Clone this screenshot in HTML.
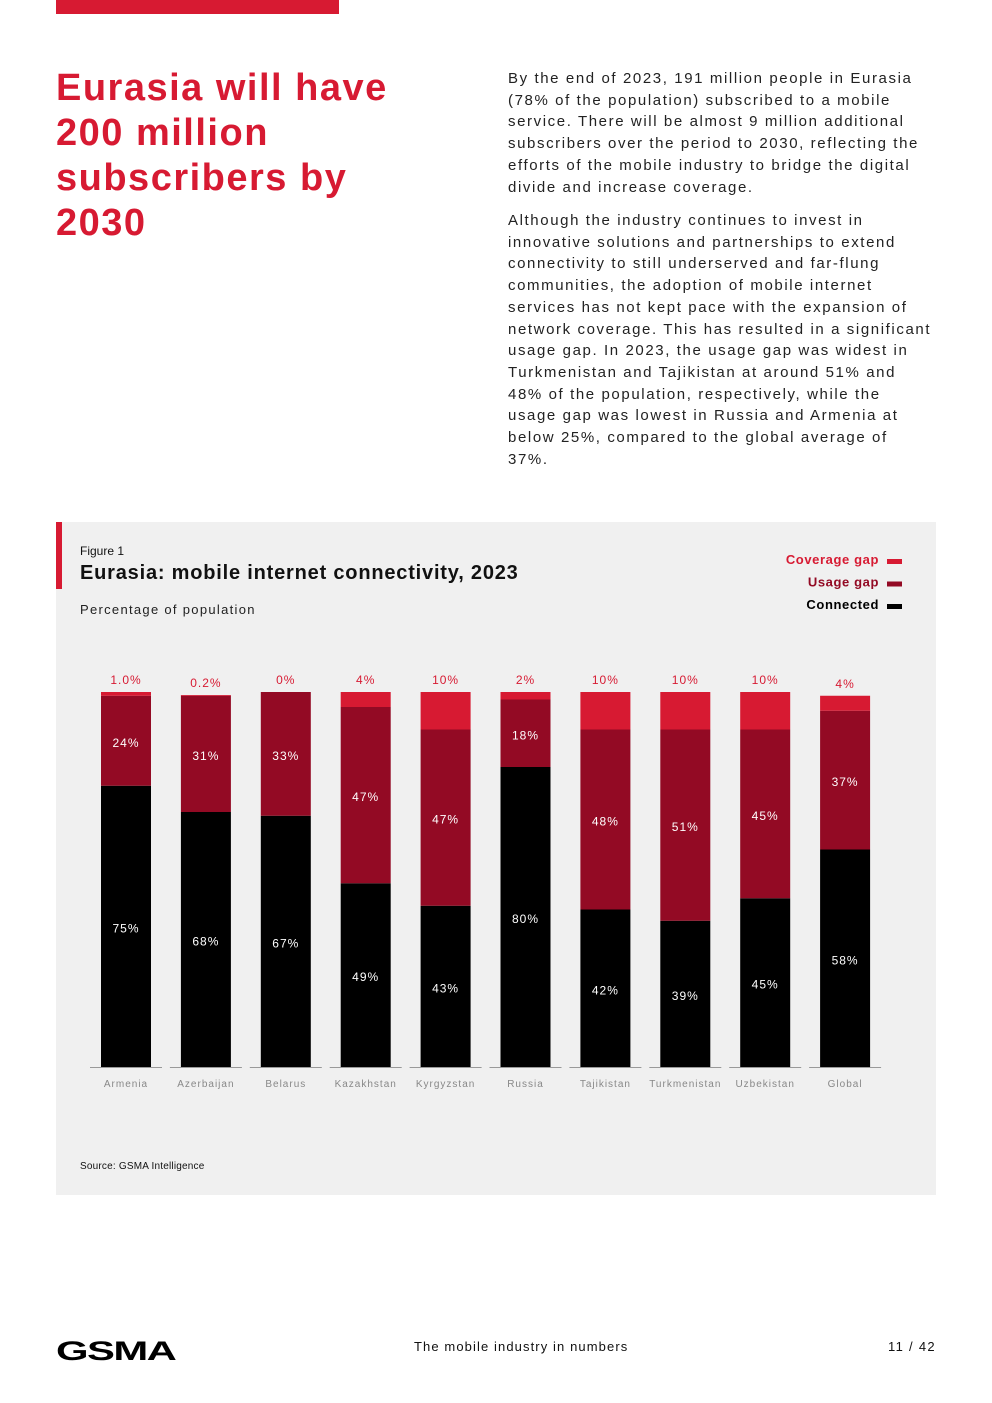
<!DOCTYPE html>
<html><head><meta charset="utf-8">
<style>
body{margin:0;width:992px;height:1403px;background:#fff;position:relative;font-family:"Liberation Sans",sans-serif;overflow:hidden}
.abs{position:absolute}
#title{left:56px;top:66px;color:#d71a32;font-weight:bold;font-size:38px;line-height:45px;letter-spacing:1.5px}
.body{left:508px;color:#222;font-size:15px;line-height:21.7px;letter-spacing:1.6px;white-space:nowrap}
</style></head><body>
<div class="abs" style="left:56px;top:0;width:283px;height:14px;background:#d71a32"></div>
<div id="title" class="abs">Eurasia will have<br>200 million<br>subscribers by<br>2030</div>
<div class="abs body" style="top:68px">By the end of 2023, 191 million people in Eurasia<br>(78% of the population) subscribed to a mobile<br>service. There will be almost 9 million additional<br>subscribers over the period to 2030, reflecting the<br>efforts of the mobile industry to bridge the digital<br>divide and increase coverage.</div>
<div class="abs body" style="top:210px">Although the industry continues to invest in<br>innovative solutions and partnerships to extend<br>connectivity to still underserved and far-flung<br>communities, the adoption of mobile internet<br>services has not kept pace with the expansion of<br>network coverage. This has resulted in a significant<br>usage gap. In 2023, the usage gap was widest in<br>Turkmenistan and Tajikistan at around 51% and<br>48% of the population, respectively, while the<br>usage gap was lowest in Russia and Armenia at<br>below 25%, compared to the global average of<br>37%.</div>

<div class="abs" style="left:56px;top:522px;width:880px;height:673px;background:#f0f0f0"></div>
<div class="abs" style="left:56px;top:522px;width:6px;height:67px;background:#d71a32"></div>
<div class="abs" style="left:80px;top:544px;font-size:12px;color:#111">Figure 1</div>
<div class="abs" style="left:80px;top:562px;font-size:20px;font-weight:bold;color:#111;letter-spacing:0.8px">Eurasia: mobile internet connectivity, 2023</div>
<div class="abs" style="left:80px;top:602px;font-size:13px;color:#222;letter-spacing:1.3px">Percentage of population</div>

<svg class="abs" style="left:0;top:0" width="992" height="1403" id="chart"></svg>

<div class="abs" style="left:80px;top:1161px;font-size:10px;color:#111;letter-spacing:0.2px">Source: GSMA Intelligence</div>

<div class="abs" style="left:56px;top:1336px;font-size:27px;font-weight:900;letter-spacing:-1px;color:#000;transform:scaleX(1.55);transform-origin:left">GSMA</div>
<div class="abs" style="left:414px;top:1339px;font-size:13px;color:#111;letter-spacing:1.1px">The mobile industry in numbers</div>
<div class="abs" style="left:888px;top:1339px;font-size:13px;color:#111;letter-spacing:1.3px">11 / 42</div>

<script>
const categories=["Armenia","Azerbaijan","Belarus","Kazakhstan","Kyrgyzstan","Russia","Tajikistan","Turkmenistan","Uzbekistan","Global"];
const connected=[75,68,67,49,43,80,42,39,45,58];
const usage=[24,31,33,47,47,18,48,51,45,37];
const coverage=[1.0,0.2,0,4,10,2,10,10,10,4];
const coverageLabels=["1.0%","0.2%","0%","4%","10%","2%","10%","10%","10%","4%"];
const legendNames=["Coverage gap","Usage gap","Connected"];

const NS="http://www.w3.org/2000/svg";
const svg=document.getElementById('chart');
const base=1067, scale=3.75, x0=101, step=79.9, bw=50;
const y=v=>base-v*scale;
const x=i=>x0+i*step;
function mk(t,a){const e=document.createElementNS(NS,t);for(const k in a)e.setAttribute(k,a[k]);svg.appendChild(e);return e;}
function txt(s,cx,cy,fill,size,anchor,weight,ls){const e=mk('text',{x:cx,y:cy,fill:fill,'font-size':size,'text-anchor':anchor||'middle','font-family':'Liberation Sans, sans-serif','letter-spacing':ls||'1'});if(weight)e.setAttribute('font-weight',weight);e.textContent=s;return e;}
const cols={cov:"#d71a32",use:"#930a24",con:"#000"};
categories.forEach((c,i)=>{
  const xl=x(i), cx=xl+bw/2;
  const ax=mk('line',{x1:xl-11,x2:xl+bw+11,y1:base+0.5,y2:base+0.5,stroke:'#999','stroke-width':1});
  
  
  const t0=y(connected[i]), t1=y(connected[i]+usage[i]), t2=y(connected[i]+usage[i]+coverage[i]);
  const r1=mk('rect',{x:xl,y:t0,width:bw,height:base-t0,fill:cols.con});
  
  
  const r2=mk('rect',{x:xl,y:t1,width:bw,height:t0-t1,fill:cols.use});
  
  
  const r3=mk('rect',{x:xl,y:t2,width:bw,height:Math.max(t1-t2,0),fill:cols.cov});
  
  
  const l1=txt(connected[i]+'%',cx,(t0+base)/2+6,'#fff',12);
  
  
  const l2=txt(usage[i]+'%',cx,(t0+t1)/2+6,'#fff',12);
  
  
  const l3=txt(coverageLabels[i],cx,Math.min(t2,y(99))-8,'#d71a32',12);
  
  
  const xl2=txt(c,cx,base+20,'#888',10);
  
  
});
const lc=[cols.cov,cols.use,cols.con], lt=["#d71a32","#930a24","#000"];
legendNames.forEach((n,i)=>{
  const ly=564+i*22.5;
  const t=txt(n,879,ly,lt[i],13,'end','bold','0.6');
  
  
  const s=mk('rect',{x:887,y:ly-5,width:15,height:5,fill:lc[i]});
  
  
});
</script>
</body></html>
